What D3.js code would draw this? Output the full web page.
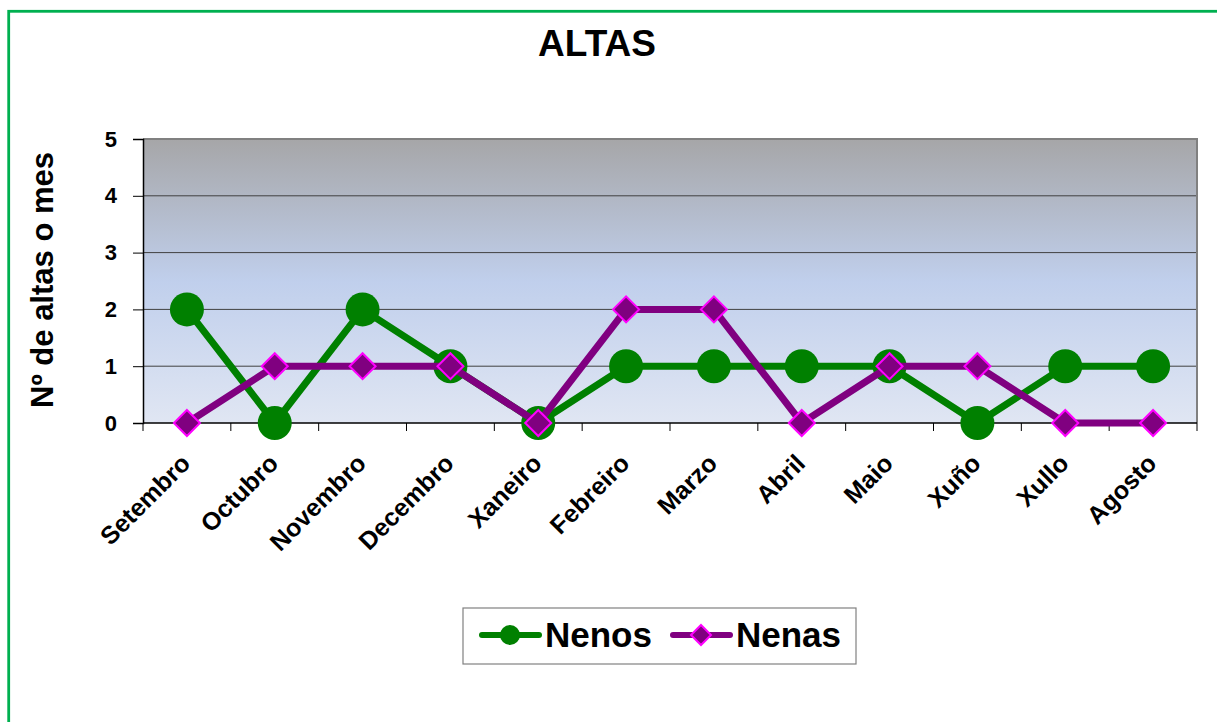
<!DOCTYPE html>
<html><head><meta charset="utf-8">
<script src="https://cdn.jsdelivr.net/npm/d3@7"></script>
<style>html,body{margin:0;padding:0;background:#fff;}svg{display:block;font-family:"Liberation Sans",Arial,sans-serif;}</style>
</head><body>
<svg id="chart" width="1217" height="722"></svg>
<script>
const months = ["Setembro","Octubro","Novembro","Decembro","Xaneiro","Febreiro","Marzo","Abril","Maio","Xuño","Xullo","Agosto"];
const nenos = [2,0,2,1,0,1,1,1,1,0,1,1];
const nenas = [0,1,1,1,0,2,2,0,1,1,0,0];
const yTicks = [0,1,2,3,4,5];
const title = "ALTAS";
const yTitle = "Nº de altas o mes";
const seriesNames = ["Nenos","Nenas"];

const svg = d3.select("#chart");
const m = {left:143, top:139, right:1197, bottom:423};
const FF = "'Liberation Sans', Arial, sans-serif";

// outer border
svg.append("rect").attr("x",8.7).attr("y",11.3).attr("width",1240).attr("height",740)
  .attr("fill","#fff").attr("stroke","#00b050").attr("stroke-width",2.8);

const defs = svg.append("defs");
const grad = defs.append("linearGradient").attr("id","bg").attr("x1",0).attr("y1",0).attr("x2",0).attr("y2",1);
grad.append("stop").attr("offset","0%").attr("stop-color","#a6a6a8");
grad.append("stop").attr("offset","50%").attr("stop-color","#c0cfec");
grad.append("stop").attr("offset","100%").attr("stop-color","#e0e6f3");

const x = d3.scaleBand().domain(months).range([m.left,m.right]).padding(0);
const y = d3.scaleLinear().domain([0,5]).range([m.bottom,m.top]);

svg.append("rect").attr("x",m.left).attr("y",m.top).attr("width",m.right-m.left).attr("height",m.bottom-m.top)
  .attr("fill","url(#bg)");

// gridlines
svg.append("g").selectAll("line").data(yTicks.filter(d=>d>0)).join("line")
  .attr("x1",m.left).attr("x2",m.right).attr("y1",d=>y(d)).attr("y2",d=>y(d))
  .attr("stroke","#404040").attr("stroke-width",1);

// plot border top/right
svg.append("path").attr("d",`M${m.left},${m.top}H${m.right}V${m.bottom}`)
  .attr("fill","none").attr("stroke","#808080").attr("stroke-width",2);

// y axis
const yAxis = d3.axisLeft(y).tickValues(yTicks).tickSize(10).tickPadding(16).tickFormat(d3.format("d"));
const gy = svg.append("g").attr("transform",`translate(${m.left},0)`).call(yAxis);
gy.attr("font-size",null).attr("font-family",null);
gy.select(".domain").attr("stroke","#000").attr("stroke-width",1.5);
gy.selectAll(".tick line").attr("stroke","#000");
gy.selectAll(".tick text").style("font-size","22px").style("font-weight","bold").style("font-family",FF).attr("fill","#000");

// x axis ticks at boundaries
const bounds = months.map(d=>x(d)).concat([m.right]);
svg.append("line").attr("x1",m.left).attr("x2",m.right).attr("y1",m.bottom).attr("y2",m.bottom)
  .attr("stroke","#000").attr("stroke-width",1.5);
svg.append("g").selectAll("line").data(bounds).join("line")
  .attr("x1",d=>d).attr("x2",d=>d).attr("y1",m.bottom).attr("y2",m.bottom+8)
  .attr("stroke","#000").attr("stroke-width",1);
svg.append("g").selectAll("text").data(months).join("text")
  .attr("transform",d=>`translate(${x(d)+x.bandwidth()/2+5},${m.bottom+42}) rotate(-45)`)
  .attr("text-anchor","end").style("font-size","25px").style("font-weight","bold").text(d=>d);

// lines
const cx = d=>x(d)+x.bandwidth()/2;
const line = d3.line().x((d,i)=>cx(months[i])).y(d=>y(d));
svg.append("path").datum(nenos).attr("d",line).attr("fill","none").attr("stroke","#008000").attr("stroke-width",7).attr("stroke-linejoin","round");
svg.append("g").selectAll("circle").data(nenos).join("circle")
  .attr("cx",(d,i)=>cx(months[i])).attr("cy",d=>y(d)).attr("r",17).attr("fill","#008000");
svg.append("path").datum(nenas).attr("d",line).attr("fill","none").attr("stroke","#800080").attr("stroke-width",7).attr("stroke-linejoin","round");
const dia = s=>`M0,${-s}L${s},0L0,${s}L${-s},0Z`;
svg.append("g").selectAll("path").data(nenas).join("path")
  .attr("transform",(d,i)=>`translate(${cx(months[i])},${y(d)})`).attr("d",dia(13))
  .attr("fill","#800080").attr("stroke","#ff00ff").attr("stroke-width",2);

// title
svg.append("text").attr("x",597).attr("y",56).attr("text-anchor","middle").style("font-size","37px").style("font-weight","bold").text(title);
// y title
svg.append("text").attr("transform","translate(53,280) rotate(-90)").attr("text-anchor","middle")
  .style("font-size","31px").style("font-weight","bold").text(yTitle);

// legend
const lg = svg.append("g");
lg.append("rect").attr("x",463).attr("y",608).attr("width",393).attr("height",56).attr("fill","#fff").attr("stroke","#808080").attr("stroke-width",1.2);
const items = [
  {name:seriesNames[0], x0:482, color:"#008000", shape:"circle"},
  {name:seriesNames[1], x0:673, color:"#800080", shape:"diamond"}
];
items.forEach(it=>{
  lg.append("line").attr("x1",it.x0).attr("x2",it.x0+57).attr("y1",635).attr("y2",635)
    .attr("stroke",it.color).attr("stroke-width",6).attr("stroke-linecap","round");
  if(it.shape==="circle") lg.append("circle").attr("cx",it.x0+28).attr("cy",635).attr("r",10).attr("fill",it.color);
  else lg.append("path").attr("transform",`translate(${it.x0+28},635)`).attr("d",dia(10)).attr("fill",it.color).attr("stroke","#ff00ff").attr("stroke-width",2);
  lg.append("text").attr("x",it.x0+63).attr("y",647).style("font-size","35px").style("font-weight","bold").text(it.name);
});
</script>
</body></html>
